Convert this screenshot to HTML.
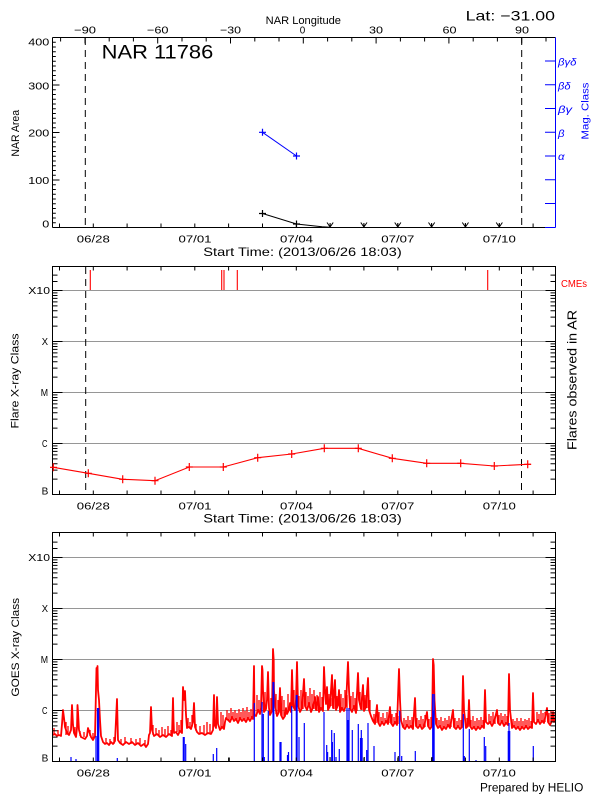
<!DOCTYPE html>
<html><head><meta charset="utf-8"><style>
html,body{margin:0;padding:0;background:#fff;}
svg{display:block;}
text{font-family:"Liberation Sans",sans-serif;fill:#000;}
</style></head><body>
<svg width="600" height="800" viewBox="0 0 600 800" xmlns="http://www.w3.org/2000/svg">
<rect width="600" height="800" fill="#fff"/>

<!-- ================= TOP PANEL ================= -->
<text x="265.7" y="24" font-size="11" textLength="75.3" lengthAdjust="spacingAndGlyphs">NAR Longitude</text>
<g font-size="10.5" text-anchor="middle">
<text x="85" y="33.7" textLength="22" lengthAdjust="spacingAndGlyphs">−90</text>
<text x="157.7" y="33.7" textLength="21.6" lengthAdjust="spacingAndGlyphs">−60</text>
<text x="230.5" y="33.7" textLength="21" lengthAdjust="spacingAndGlyphs">−30</text>
<text x="302.5" y="33.7" textLength="5.5" lengthAdjust="spacingAndGlyphs">0</text>
<text x="376" y="33.7" textLength="14" lengthAdjust="spacingAndGlyphs">30</text>
<text x="449.5" y="33.7" textLength="14" lengthAdjust="spacingAndGlyphs">60</text>
<text x="522" y="33.7" textLength="14" lengthAdjust="spacingAndGlyphs">90</text>
</g>
<text x="465.7" y="20.7" font-size="14" textLength="89.3" lengthAdjust="spacingAndGlyphs">Lat: −31.00</text>
<text x="101.7" y="58.3" font-size="19.5" textLength="111.6" lengthAdjust="spacingAndGlyphs">NAR 11786</text>

<!-- box -->
<path d="M52.5 37.5H555.5 M52.5 37.5V227.5 M52.5 227.5H545" stroke="#000" stroke-width="1" fill="none"/>
<path d="M555.5 37.5V227.5 M545 227.5H555.5" stroke="#00f" stroke-width="1" fill="none"/>
<path stroke="#000" stroke-width="1" d="M60.6 37.5v4 M85 37.5v6 M109.2 37.5v4 M133.4 37.5v4 M157.7 37.5v6 M182 37.5v4 M206.2 37.5v4 M230.5 37.5v6 M254.8 37.5v4 M279 37.5v4 M303.3 37.5v6 M327.6 37.5v4 M351.8 37.5v4 M376.1 37.5v6 M400.4 37.5v4 M424.6 37.5v4 M448.9 37.5v6 M473.2 37.5v4 M497.4 37.5v4 M521.7 37.5v6 M546 37.5v4"/>
<path stroke="#000" stroke-width="1" d="M52.5 222.75h3.3 M52.5 218h3.3 M52.5 213.25h3.3 M52.5 208.5h3.3 M52.5 203.75h3.3 M52.5 199h3.3 M52.5 194.25h3.3 M52.5 189.5h3.3 M52.5 184.75h3.3 M52.5 180h7 M52.5 175.25h3.3 M52.5 170.5h3.3 M52.5 165.75h3.3 M52.5 161h3.3 M52.5 156.25h3.3 M52.5 151.5h3.3 M52.5 146.75h3.3 M52.5 142h3.3 M52.5 137.25h3.3 M52.5 132.5h7 M52.5 127.75h3.3 M52.5 123h3.3 M52.5 118.25h3.3 M52.5 113.5h3.3 M52.5 108.75h3.3 M52.5 104h3.3 M52.5 99.25h3.3 M52.5 94.5h3.3 M52.5 89.75h3.3 M52.5 85h7 M52.5 80.25h3.3 M52.5 75.5h3.3 M52.5 70.75h3.3 M52.5 66h3.3 M52.5 61.25h3.3 M52.5 56.5h3.3 M52.5 51.75h3.3 M52.5 47h3.3 M52.5 42.25h3.3 M52.5 37.5h7"/>
<path stroke="#000" stroke-width="1" d="M59.5 227.5v-4 M93.3 227.5v-4 M127.1 227.5v-4 M161 227.5v-4 M194.8 227.5v-4 M228.6 227.5v-4 M262.5 227.5v-4 M296.3 227.5v-4 M330.1 227.5v-4 M363.9 227.5v-4 M397.8 227.5v-4 M431.6 227.5v-4 M465.4 227.5v-4 M499.3 227.5v-4 M533.1 227.5v-4"/>
<path stroke="#00f" stroke-width="1" d="M555.5 61h-10.5 M555.5 84.8h-10.5 M555.5 108.5h-10.5 M555.5 132.3h-10.5 M555.5 156h-10.5 M555.5 179.8h-10.5 M555.5 203.5h-10.5"/>
<g font-size="10" font-style="italic">
<text x="558" y="65.5" style="fill:#00f" textLength="18.5" lengthAdjust="spacingAndGlyphs">βγδ</text>
<text x="558" y="89.3" style="fill:#00f" textLength="12.5" lengthAdjust="spacingAndGlyphs">βδ</text>
<text x="558" y="113" style="fill:#00f" textLength="14" lengthAdjust="spacingAndGlyphs">βγ</text>
<text x="558" y="136.8" style="fill:#00f" textLength="6.5" lengthAdjust="spacingAndGlyphs">β</text>
<text x="558" y="160" style="fill:#00f" textLength="6.5" lengthAdjust="spacingAndGlyphs">α</text>
</g>
<text transform="translate(588.5,111) rotate(-90)" text-anchor="middle" font-size="10.5" style="fill:#00f" textLength="57" lengthAdjust="spacingAndGlyphs">Mag. Class</text>

<g font-size="10.5" text-anchor="end">
<text x="49.3" y="45.5" textLength="21" lengthAdjust="spacingAndGlyphs">400</text>
<text x="49.3" y="89.3" textLength="21" lengthAdjust="spacingAndGlyphs">300</text>
<text x="49.3" y="136.5" textLength="21" lengthAdjust="spacingAndGlyphs">200</text>
<text x="49.3" y="184" textLength="21" lengthAdjust="spacingAndGlyphs">100</text>
<text x="49.3" y="227.7" textLength="7" lengthAdjust="spacingAndGlyphs">0</text>
</g>
<text transform="translate(19,133.3) rotate(-90)" text-anchor="middle" font-size="11" textLength="46.7" lengthAdjust="spacingAndGlyphs">NAR Area</text>

<path d="M85.3 38V227 M521.7 38V227" stroke="#000" stroke-width="1" stroke-dasharray="7 5"/>

<polyline points="262.5,132.3 296.5,156" fill="none" stroke="#00f" stroke-width="1"/>
<path d="M259 132.3h7 M262.5 128.8v7 M293 156h7 M296.5 152.5v7" stroke="#00f" stroke-width="1.2"/>
<polyline points="262.5,213.5 296.5,224 322,226.8 330,227.2" fill="none" stroke="#000" stroke-width="1"/>
<path d="M259 213.5h7 M262.5 210v7 M293 224h7 M296.5 220.5v7" stroke="#000" stroke-width="1.2"/>
<path stroke="#000" stroke-width="1" fill="none" d="M327 222.5L330.1 227L333.2 222.5 M330.1 223V227 M360.8 222.5L363.9 227L367 222.5 M363.9 223V227 M394.7 222.5L397.8 227L400.9 222.5 M397.8 223V227 M428.5 222.5L431.6 227L434.7 222.5 M431.6 223V227 M462.3 222.5L465.4 227L468.5 222.5 M465.4 223V227 M496.2 222.5L499.3 227L502.4 222.5 M499.3 223V227"/>

<g font-size="10.5" text-anchor="middle">
<text x="93.3" y="242.7" textLength="33" lengthAdjust="spacingAndGlyphs">06/28</text>
<text x="195" y="242.7" textLength="33" lengthAdjust="spacingAndGlyphs">07/01</text>
<text x="296.5" y="242.7" textLength="33" lengthAdjust="spacingAndGlyphs">07/04</text>
<text x="397.8" y="242.7" textLength="33" lengthAdjust="spacingAndGlyphs">07/07</text>
<text x="499.3" y="242.7" textLength="33" lengthAdjust="spacingAndGlyphs">07/10</text>
</g>
<text x="203.3" y="256" font-size="12" textLength="198.4" lengthAdjust="spacingAndGlyphs">Start Time: (2013/06/26 18:03)</text>

<!-- ================= MIDDLE PANEL ================= -->
<path d="M52.5 290.5H555.5 M52.5 341.5H555.5 M52.5 392.5H555.5 M52.5 443.5H555.5" stroke="#969696" stroke-width="1"/>
<rect x="52.5" y="266.5" width="503" height="228" fill="none" stroke="#000" stroke-width="1"/>
<path stroke="#000" stroke-width="1" d="M59.5 494.5v-4 M93.3 494.5v-4 M127.1 494.5v-4 M161 494.5v-4 M194.8 494.5v-4 M228.6 494.5v-4 M262.5 494.5v-4 M296.3 494.5v-4 M330.1 494.5v-4 M363.9 494.5v-4 M397.8 494.5v-4 M431.6 494.5v-4 M465.4 494.5v-4 M499.3 494.5v-4 M533.1 494.5v-4
M59.5 266.5v4 M93.3 266.5v4 M127.1 266.5v4 M161 266.5v4 M194.8 266.5v4 M228.6 266.5v4 M262.5 266.5v4 M296.3 266.5v4 M330.1 266.5v4 M363.9 266.5v4 M397.8 266.5v4 M431.6 266.5v4 M465.4 266.5v4 M499.3 266.5v4 M533.1 266.5v4"/>
<path stroke="#000" stroke-width="1" d="M52.5 290.5h10 M52.5 341.5h10 M52.5 392.5h10 M52.5 443.5h10
M52.5 479.15h5 M52.5 470.17h5 M52.5 463.8h5 M52.5 458.85h5 M52.5 454.82h5 M52.5 451.4h5 M52.5 448.44h5 M52.5 445.84h5
M52.5 428.15h5 M52.5 419.17h5 M52.5 412.8h5 M52.5 407.85h5 M52.5 403.82h5 M52.5 400.4h5 M52.5 397.44h5 M52.5 394.84h5
M52.5 377.15h5 M52.5 368.17h5 M52.5 361.8h5 M52.5 356.85h5 M52.5 352.82h5 M52.5 349.4h5 M52.5 346.44h5 M52.5 343.84h5
M52.5 326.15h5 M52.5 317.17h5 M52.5 310.8h5 M52.5 305.85h5 M52.5 301.82h5 M52.5 298.4h5 M52.5 295.44h5 M52.5 292.84h5
M52.5 275.15h5 M52.5 281.5h5
M555.5 290.5h-10 M555.5 341.5h-10 M555.5 392.5h-10 M555.5 443.5h-10
M555.5 479.15h-5 M555.5 470.17h-5 M555.5 463.8h-5 M555.5 458.85h-5 M555.5 454.82h-5 M555.5 451.4h-5 M555.5 448.44h-5 M555.5 445.84h-5
M555.5 428.15h-5 M555.5 419.17h-5 M555.5 412.8h-5 M555.5 407.85h-5 M555.5 403.82h-5 M555.5 400.4h-5 M555.5 397.44h-5 M555.5 394.84h-5
M555.5 377.15h-5 M555.5 368.17h-5 M555.5 361.8h-5 M555.5 356.85h-5 M555.5 352.82h-5 M555.5 349.4h-5 M555.5 346.44h-5 M555.5 343.84h-5
M555.5 326.15h-5 M555.5 317.17h-5 M555.5 310.8h-5 M555.5 305.85h-5 M555.5 301.82h-5 M555.5 298.4h-5 M555.5 295.44h-5 M555.5 292.84h-5
M555.5 275.15h-5 M555.5 281.5h-5"/>
<path d="M85.7 267V494 M521.5 267V494" stroke="#000" stroke-width="1" stroke-dasharray="7 5"/>
<path d="M90.3 270V290 M221.7 270V290 M224 270V290 M237.3 270V290 M487.7 270V290" stroke="#f00" stroke-width="1.1"/>
<text x="561" y="287" font-size="10" style="fill:#f00" textLength="26" lengthAdjust="spacingAndGlyphs">CMEs</text>
<polyline fill="none" stroke="#f00" stroke-width="1.1" points="52.5,467.3 53.3,467.3 88.3,473.3 122.7,479.3 155,480.7 189.3,467 223.3,467 257.7,457.7 291.7,454 324.3,448.3 358.3,448.3 392.3,458.3 426.7,463.3 460.7,463.3 494.3,466 527.7,464.3 531,464.3"/>
<path stroke="#f00" stroke-width="1.2" d="M50 467.3h7 M53.3 463.3v8 M84.8 473.3h7 M88.3 469.3v8 M119.2 479.3h7 M122.7 475.3v8 M151.5 480.7h7 M155 476.7v8 M185.8 467h7 M189.3 463v8 M219.8 467h7 M223.3 463v8 M254.2 457.7h7 M257.7 453.7v8 M288.2 454h7 M291.7 450v8 M320.8 448.3h7 M324.3 444.3v8 M354.8 448.3h7 M358.3 444.3v8 M388.8 458.3h7 M392.3 454.3v8 M423.2 463.3h7 M426.7 459.3v8 M457.2 463.3h7 M460.7 459.3v8 M490.8 466h7 M494.3 462v8 M524.2 464.3h7 M527.7 460.3v8"/>
<g font-size="10.5" text-anchor="end">
<text x="50" y="294.2" textLength="21.7" lengthAdjust="spacingAndGlyphs">X10</text>
<text x="48" y="345.2" textLength="6.3" lengthAdjust="spacingAndGlyphs">X</text>
<text x="48" y="396.2" textLength="7.3" lengthAdjust="spacingAndGlyphs">M</text>
<text x="47.5" y="447.2" textLength="5.5" lengthAdjust="spacingAndGlyphs">C</text>
<text x="48.3" y="494.5" textLength="6.7" lengthAdjust="spacingAndGlyphs">B</text>
</g>
<text transform="translate(18.7,381) rotate(-90)" text-anchor="middle" font-size="11" textLength="95" lengthAdjust="spacingAndGlyphs">Flare X-ray Class</text>
<text transform="translate(576.5,380) rotate(-90)" text-anchor="middle" font-size="12.5" textLength="140" lengthAdjust="spacingAndGlyphs">Flares observed in AR</text>
<g font-size="10.5" text-anchor="middle">
<text x="93.3" y="509.5" textLength="33" lengthAdjust="spacingAndGlyphs">06/28</text>
<text x="195" y="509.5" textLength="33" lengthAdjust="spacingAndGlyphs">07/01</text>
<text x="296.5" y="509.5" textLength="33" lengthAdjust="spacingAndGlyphs">07/04</text>
<text x="397.8" y="509.5" textLength="33" lengthAdjust="spacingAndGlyphs">07/07</text>
<text x="499.3" y="509.5" textLength="33" lengthAdjust="spacingAndGlyphs">07/10</text>
</g>
<text x="203.3" y="522.5" font-size="12" textLength="198.4" lengthAdjust="spacingAndGlyphs">Start Time: (2013/06/26 18:03)</text>

<!-- ================= BOTTOM PANEL ================= -->
<path d="M52.5 557.5H555.5 M52.5 608.5H555.5 M52.5 659.5H555.5 M52.5 710.5H555.5" stroke="#969696" stroke-width="1"/>

<!-- GOES red -->
<polyline fill="none" stroke="#f00" stroke-width="1.8" stroke-linejoin="round" points="52.5,735 55,734 57,736 59,735 61,736 62,724 63,710 64,718 65,727 67,733 69,735 71,730 72,705 73,725 74,733 76,737 77,728 77.5,705 78,712 79,730 81,737 83,738 85,739 87,736 88,728 89,731 91,737 93,740 95,736 96,690 96.5,668 97,680 97.5,666 98,690 99,700 100,720 101,736 103,742 105,744 107,743 109,745 111,742 113,744 115,741 117,699 117.5,720 118,740 120,743 123,745 126,742 129,744 132,742 135,745 138,743 141,746 144,744 146,747 148,744 149,735 150,733 151,707 152,730 154,736 157,734 160,737 163,735 166,737 169,734 172,736 173,698 173.5,720 174,733 176,732 178,735 180,731 182,733 183,687 184,700 185,691 186,715 187,728 189,727 191,729 193,722 194,703 195,727 197,732 199,734 202,733 205,735 208,733 211,734 213,730 214,695 214.5,725 216,728 217,697 218,724 220,730 222,727 224,729 225,722 226,718 228,720 230,722 232,717 234,721 236,719 238,723 240,718 242,721 244,719 246,722 248,718 250,721 252,717 253,719 254,666 254.5,715 256,716 258,710 260,714 261,708 262,666 262.5,670 263,690 264,712 266,709 267,700 268,672 269,708 270,715 272,711 273,649 273.7,660 274,690 275,705 277,716 279,712 280,688 281,715 283,719 285,716 286,708 287,714 289,710 290,703 291,712 292,670 293,706 295,710 296,700 297,662 298,705 300,712 302,708 304,679 305,706 307,710 309,703 311,712 313,707 315,697 316,710 318,697 319,712 321,708 323,711 324,667 325,690 326,704 327,687 328,710 330,706 332,675 333,708 335,680 336,710 338,705 339,690 340,712 342,708 344,711 346,705 348,662 349,690 350,708 352,712 354,706 356,713 358,673 359,700 361,709 363,685 364,711 366,707 368,678 369,710 371,716 373,721 375,724 377,705 378,722 380,726 382,722 384,725 386,721 388,724 390,707 391,723 393,726 395,722 397,725 399,669 400,700 401,720 403,727 405,729 407,725 409,728 411,726 413,729 415,698 416,726 418,728 420,725 422,729 424,727 427,712 428,726 430,729 432,726 433,659 433.7,665 434.5,700 436,724 438,728 440,726 442,730 444,727 446,729 448,725 450,728 453,710 454,727 456,729 458,726 460,729 462,727 463,676 464,710 466,728 468,726 469,700 470,726 472,729 474,727 476,730 478,727 480,729 482,726 484,728 485,690 486,722 488,724 490,722 492,726 494,722 497,710 498,723 500,725 502,721 504,726 506,723 508,725 509,674 510,710 512,728 514,726 516,729 518,727 520,730 522,727 524,729 526,726 528,729 530,727 532,728 533,693 534,722 536,724 538,720 540,724 542,721 544,723 547,708 548,722 550,725 552,721 553,712 554,722 555,718"/>
<!-- extra noise -->
<path stroke="#f00" stroke-width="1.3" d="M54 735V728 M58 735V730 M66 735V722 M68 735V726 M75 735V727 M80 736V731 M84 737V732 M90 736V730 M93 738V733
M106 744V738 M110 744V739 M114 744V737 M121 744V739 M125 744V737 M131 744V738 M136 744V739 M140 744V738 M145 745V740
M153 735V725 M156 735V728 M159 736V730 M162 736V727 M165 736V729 M168 735V726 M171 735V730
M177 732V722 M179 733V725 M181 732V720 M188 728V718 M190 728V722 M192 727V715 M196 731V724 M200 733V726 M204 734V725 M207 734V722 M210 734V724
M221 729V712 M223 728V715 M227 720V710 M229 721V713 M231 720V708 M233 719V712 M235 720V710 M237 721V713 M239 720V709 M241 719V712 M243 720V708 M245 720V711 M247 720V707 M249 719V712 M251 719V709
M257 714V695 M259 712V700 M265 711V692 M271 713V698 M276 714V694 M278 714V700 M282 717V696 M284 717V700 M288 712V694 M294 708V690 M299 709V696 M301 710V690 M303 709V698 M306 708V692 M308 708V696 M310 708V688 M312 710V694 M314 709V690 M317 711V695 M320 709V692 M322 710V697 M329 708V694 M331 706V698 M334 709V692 M337 708V696 M341 710V694 M343 710V698 M345 708V690 M347 708V695 M351 710V696 M353 709V692 M355 710V698 M357 711V694 M360 705V692 M362 710V698 M365 709V695 M367 708V690 M370 713V700
M374 722V714 M376 723V716 M379 724V712 M381 724V717 M383 723V713 M385 723V718 M387 722V712 M389 723V716 M392 724V714 M394 724V717 M396 723V713 M398 724V716
M404 728V718 M406 727V720 M408 726V716 M410 727V720 M412 727V717 M417 727V718 M419 726V720 M421 727V716 M423 728V719 M425 727V715 M429 727V719 M431 727V717 M437 726V718 M439 727V720 M441 728V717 M443 728V721 M445 728V718 M447 727V720 M449 726V716 M451 727V719 M455 728V718 M457 727V721 M459 727V718 M461 728V720
M467 727V718 M471 727V720 M473 728V716 M475 728V721 M477 728V718 M479 728V720 M481 727V717 M483 727V720
M489 723V714 M491 723V716 M493 724V712 M495 724V716 M499 724V715 M501 723V713 M503 723V716 M505 724V714 M507 724V716
M513 727V719 M515 727V721 M517 728V718 M519 728V721 M521 729V718 M523 728V721 M525 728V719 M527 727V720 M529 728V718 M531 727V721
M537 722V712 M539 722V714 M541 722V710 M543 722V713 M545 722V712 M549 723V713 M551 723V710 M554 720V712"/>

<!-- GOES blue bars -->
<path stroke="#00f" stroke-width="1.2" d="M71 761V757 M76 761V759 M96 761V736 M97.5 761V708 M98.7 761V708 M117.3 761V758 M183.3 761V737 M184.2 761V737 M185.7 761V744 M213.3 761V754 M216.7 761V748 M254.3 761V703 M262 761V702 M263.3 761V714 M264.3 761V757 M268.3 761V711 M273 761V682 M273.8 761V682 M280 761V742 M281 761V742 M287.5 761V755 M288.5 761V752 M291.7 761V706 M296.3 761V695 M297.1 761V695 M299 761V737 M304.3 761V723 M324 761V712 M326.7 761V745 M327.6 761V752 M331.7 761V730 M332.4 761V742 M334.3 761V733 M336 761V757 M339.3 761V749 M347 761V708 M348 761V720 M349 761V708 M352.3 761V730 M358.3 761V724 M360.5 761V738 M361.3 761V730 M362.1 761V738 M366.7 761V750 M368 761V723 M374 761V746 M395 761V752 M399.7 761V711 M401.7 761V756 M415.3 761V751 M432.7 761V694 M433.4 761V711 M434.1 761V694 M463.3 761V714 M464.3 761V756 M469.3 761V729 M476 761V760 M484.3 761V737 M485.7 761V746 M508.3 761V731 M509 761V723 M509.7 761V731 M533.3 761V746"/>
<path stroke="#000" stroke-width="1" d="M229.3 761V757.5 M330 761V757 M364.3 761V757 M398.3 761V756 M432 761V757"/>

<rect x="52.5" y="532.5" width="503" height="229" fill="none" stroke="#000" stroke-width="1"/>
<path stroke="#000" stroke-width="1" d="M59.5 761.5v-4 M93.3 761.5v-4 M127.1 761.5v-4 M161 761.5v-4 M194.8 761.5v-4 M228.6 761.5v-4 M262.5 761.5v-4 M296.3 761.5v-4 M330.1 761.5v-4 M363.9 761.5v-4 M397.8 761.5v-4 M431.6 761.5v-4 M465.4 761.5v-4 M499.3 761.5v-4 M533.1 761.5v-4
M59.5 532.5v4 M93.3 532.5v4 M127.1 532.5v4 M161 532.5v4 M194.8 532.5v4 M228.6 532.5v4 M262.5 532.5v4 M296.3 532.5v4 M330.1 532.5v4 M363.9 532.5v4 M397.8 532.5v4 M431.6 532.5v4 M465.4 532.5v4 M499.3 532.5v4 M533.1 532.5v4"/>
<path stroke="#000" stroke-width="1" d="M52.5 557.5h10 M52.5 608.5h10 M52.5 659.5h10 M52.5 710.5h10
M52.5 746.15h5 M52.5 737.17h5 M52.5 730.8h5 M52.5 725.85h5 M52.5 721.82h5 M52.5 718.4h5 M52.5 715.44h5 M52.5 712.84h5
M52.5 695.15h5 M52.5 686.17h5 M52.5 679.8h5 M52.5 674.85h5 M52.5 670.82h5 M52.5 667.4h5 M52.5 664.44h5 M52.5 661.84h5
M52.5 644.15h5 M52.5 635.17h5 M52.5 628.8h5 M52.5 623.85h5 M52.5 619.82h5 M52.5 616.4h5 M52.5 613.44h5 M52.5 610.84h5
M52.5 593.15h5 M52.5 584.17h5 M52.5 577.8h5 M52.5 572.85h5 M52.5 568.82h5 M52.5 565.4h5 M52.5 562.44h5 M52.5 559.84h5
M52.5 542.15h5 M52.5 548.5h5
M555.5 557.5h-10 M555.5 608.5h-10 M555.5 659.5h-10 M555.5 710.5h-10
M555.5 746.15h-5 M555.5 737.17h-5 M555.5 730.8h-5 M555.5 725.85h-5 M555.5 721.82h-5 M555.5 718.4h-5 M555.5 715.44h-5 M555.5 712.84h-5
M555.5 695.15h-5 M555.5 686.17h-5 M555.5 679.8h-5 M555.5 674.85h-5 M555.5 670.82h-5 M555.5 667.4h-5 M555.5 664.44h-5 M555.5 661.84h-5
M555.5 644.15h-5 M555.5 635.17h-5 M555.5 628.8h-5 M555.5 623.85h-5 M555.5 619.82h-5 M555.5 616.4h-5 M555.5 613.44h-5 M555.5 610.84h-5
M555.5 593.15h-5 M555.5 584.17h-5 M555.5 577.8h-5 M555.5 572.85h-5 M555.5 568.82h-5 M555.5 565.4h-5 M555.5 562.44h-5 M555.5 559.84h-5
M555.5 542.15h-5 M555.5 548.5h-5"/>
<g font-size="10.5" text-anchor="end">
<text x="50" y="561.2" textLength="21.7" lengthAdjust="spacingAndGlyphs">X10</text>
<text x="48" y="612.2" textLength="6.3" lengthAdjust="spacingAndGlyphs">X</text>
<text x="48" y="663.2" textLength="7.3" lengthAdjust="spacingAndGlyphs">M</text>
<text x="47.5" y="714.2" textLength="5.5" lengthAdjust="spacingAndGlyphs">C</text>
<text x="48.3" y="761.5" textLength="6.7" lengthAdjust="spacingAndGlyphs">B</text>
</g>
<text transform="translate(19,647.3) rotate(-90)" text-anchor="middle" font-size="11" textLength="98.7" lengthAdjust="spacingAndGlyphs">GOES X-ray Class</text>
<g font-size="10.5" text-anchor="middle">
<text x="93.3" y="776.5" textLength="33" lengthAdjust="spacingAndGlyphs">06/28</text>
<text x="195" y="776.5" textLength="33" lengthAdjust="spacingAndGlyphs">07/01</text>
<text x="296.5" y="776.5" textLength="33" lengthAdjust="spacingAndGlyphs">07/04</text>
<text x="397.8" y="776.5" textLength="33" lengthAdjust="spacingAndGlyphs">07/07</text>
<text x="499.3" y="776.5" textLength="33" lengthAdjust="spacingAndGlyphs">07/10</text>
</g>
<text x="480" y="791.5" font-size="11.5" textLength="103.3" lengthAdjust="spacingAndGlyphs">Prepared by HELIO</text>
</svg>
</body></html>
